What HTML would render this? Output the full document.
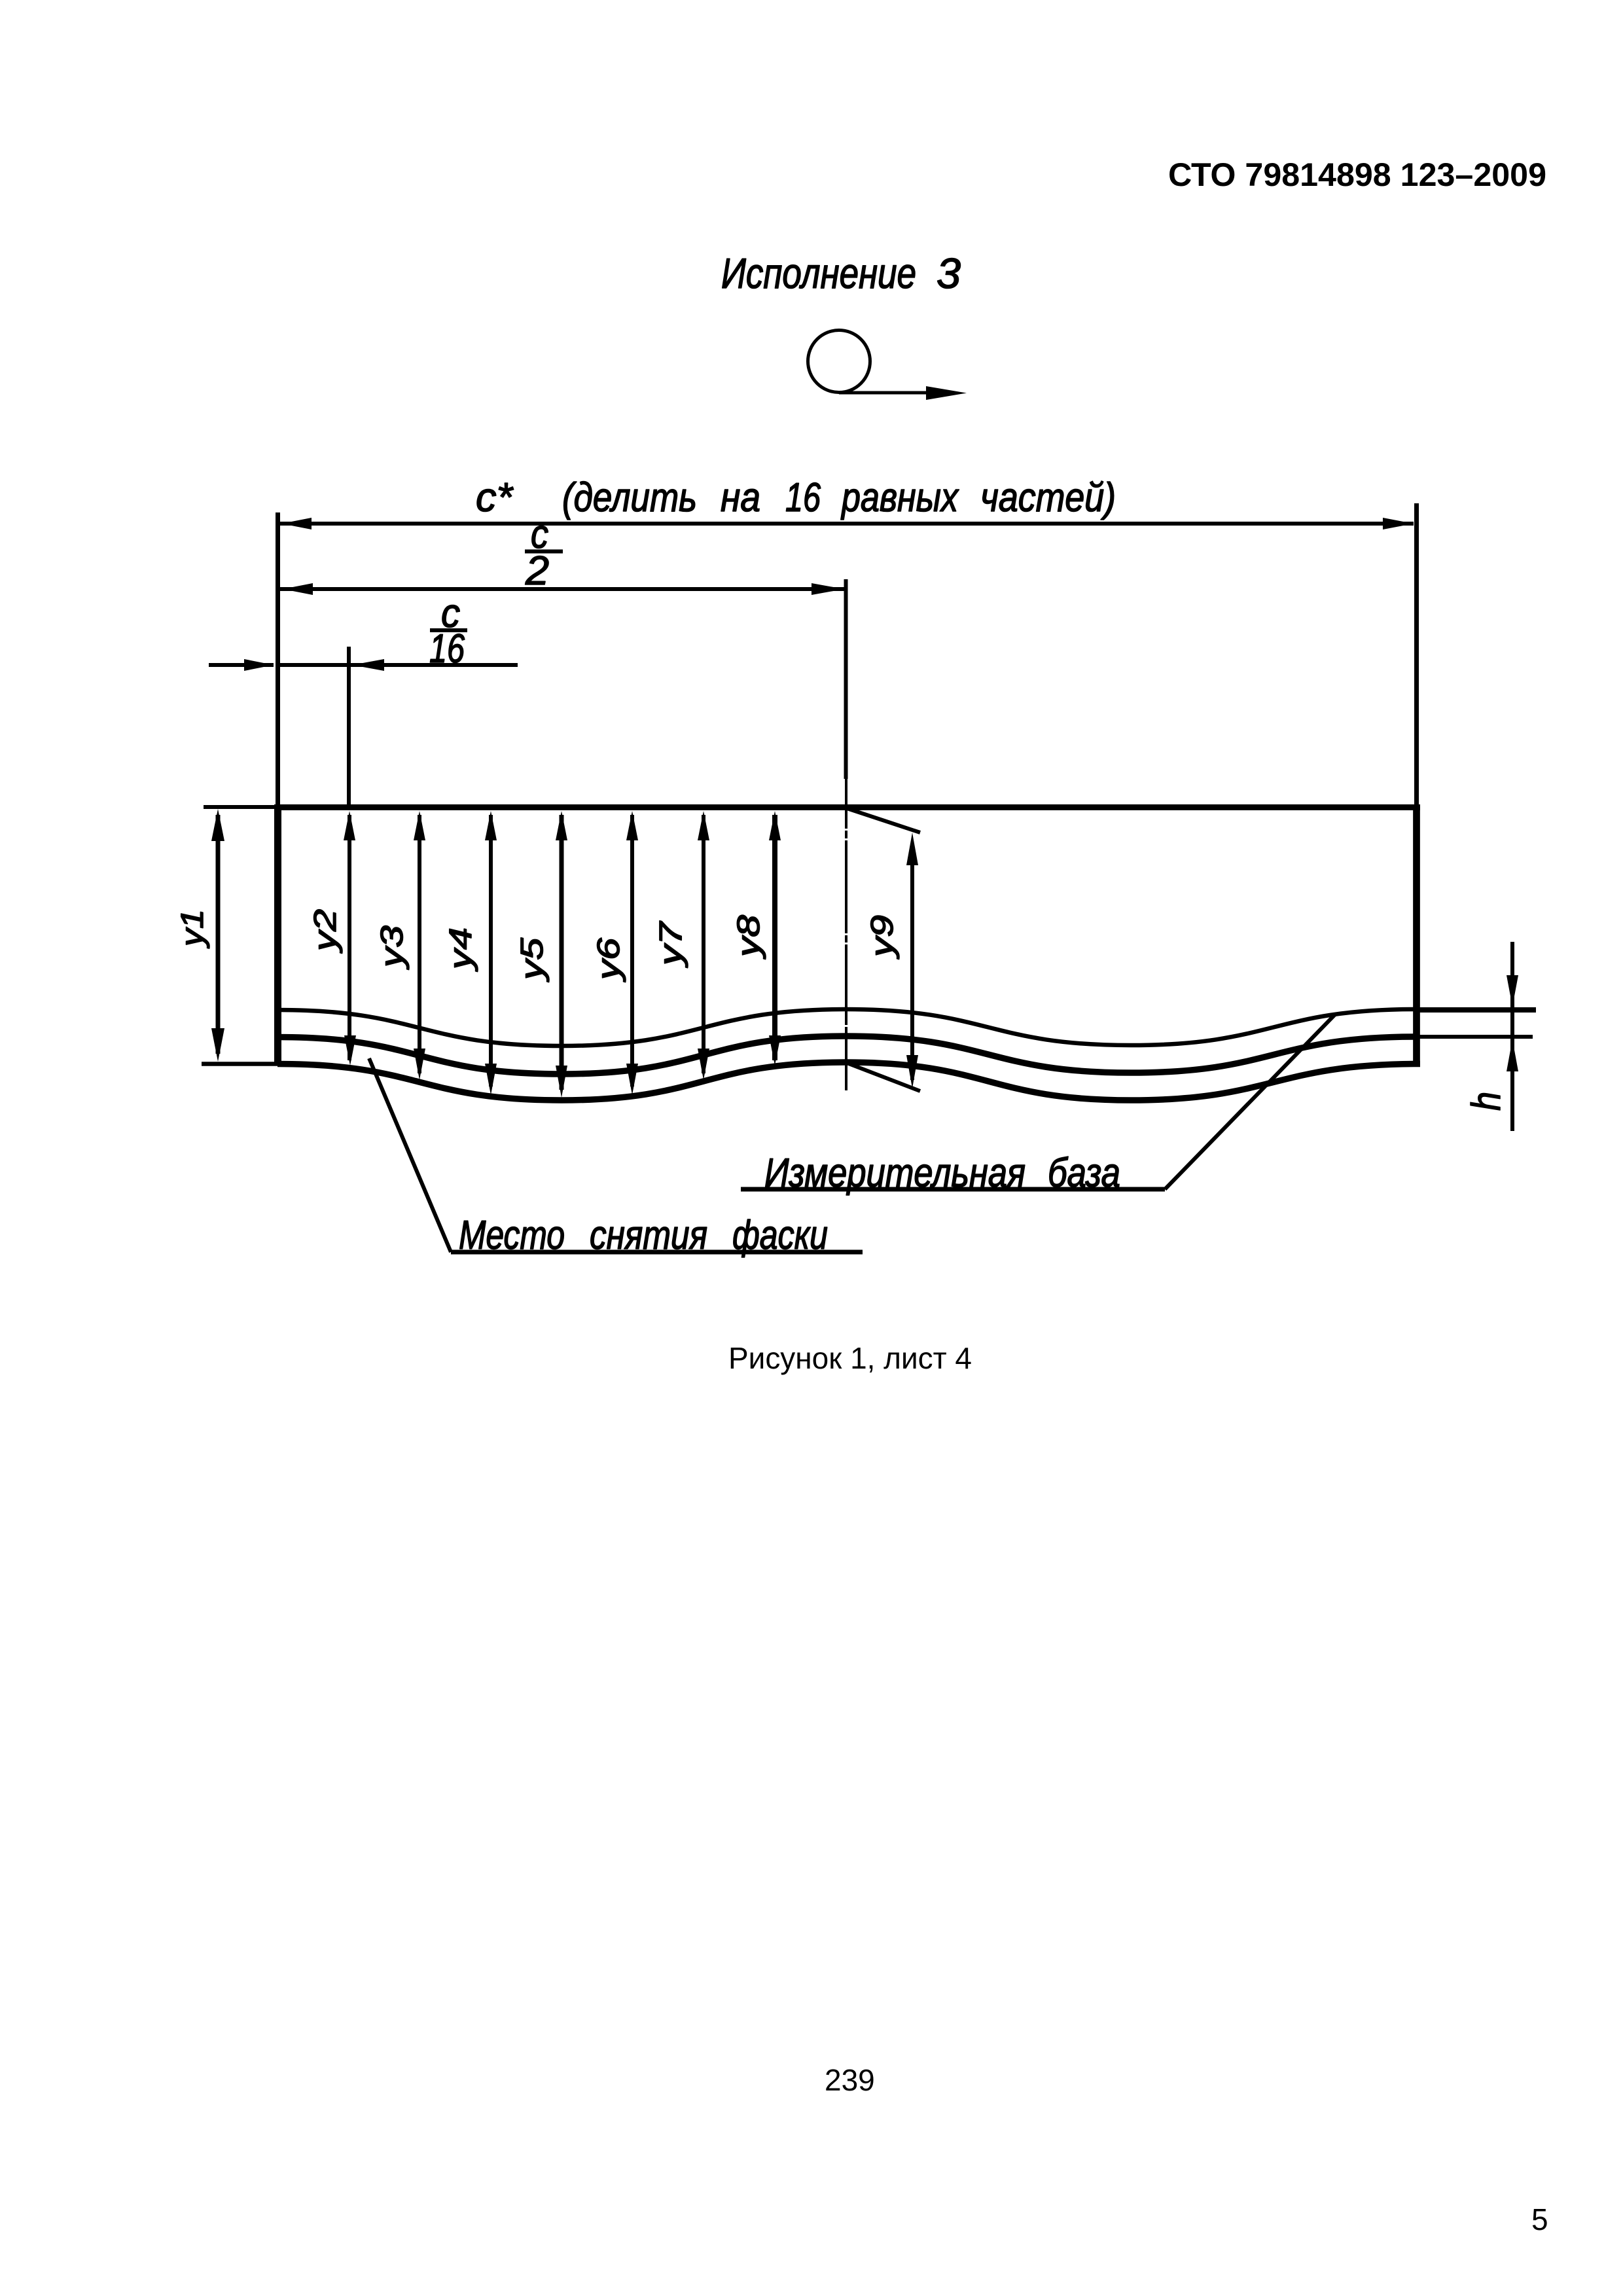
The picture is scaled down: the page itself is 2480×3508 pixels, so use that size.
<!DOCTYPE html>
<html lang="ru">
<head>
<meta charset="utf-8">
<title>СТО 79814898 123–2009</title>
<style>
html,body{margin:0;padding:0;background:#fff}
svg{display:block}
.s{font-family:"Liberation Sans",sans-serif;fill:#000}
.b{font-weight:bold}
.i{font-family:"Liberation Sans",sans-serif;font-style:italic;fill:#000;stroke:#000;stroke-width:1.6px;stroke-linejoin:round}
.d{font-size:62px}
.r{font-size:48px}
</style>
</head>
<body>
<svg xmlns="http://www.w3.org/2000/svg" width="2480" height="3508" viewBox="0 0 2480 3508">
<rect width="2480" height="3508" fill="#fff"/>

<text class="s b" x="1785" y="284" font-size="50" textLength="578" lengthAdjust="spacingAndGlyphs">СТО 79814898 123–2009</text>
<text class="i" x="1102" y="440" font-size="65" textLength="298" lengthAdjust="spacingAndGlyphs">Исполнение</text>
<text class="i" x="1431" y="440" font-size="65" textLength="37" lengthAdjust="spacingAndGlyphs">3</text>

<circle cx="1282" cy="552" r="47.5" fill="none" stroke="#000" stroke-width="5"/>
<line x1="1282" y1="600" x2="1420" y2="600" stroke="#000" stroke-width="5"/>
<polygon points="1415,590 1477,600.5 1415,611" fill="#000"/>

<g stroke="#000" stroke-width="6" fill="none">
  <!-- extension lines -->
  <line x1="424.5" y1="783" x2="424.5" y2="1234" stroke-width="7"/>
  <line x1="2164.5" y1="769" x2="2164.5" y2="1234" stroke-width="7"/>
  <line x1="1292.5" y1="885" x2="1292.5" y2="1190" stroke-width="6"/>
  <line x1="533" y1="988" x2="533" y2="1234"/>
  <!-- dim lines -->
  <line x1="425" y1="800" x2="2160" y2="800"/>
  <line x1="425" y1="900" x2="1290" y2="900"/>
  <line x1="319" y1="1016" x2="418" y2="1016"/>
  <line x1="425" y1="1016" x2="791" y2="1016"/>
  <line x1="802" y1="842.5" x2="860" y2="842.5"/>
  <line x1="657" y1="963" x2="714" y2="963"/>
  <!-- top/bottom ext -->
  <line x1="311" y1="1233" x2="425" y2="1233"/>
  <line x1="308" y1="1625.5" x2="425" y2="1625.5" stroke-width="6.5"/>
  <!-- y arrows -->
  <line x1="333" y1="1245" x2="333" y2="1610" stroke-width="7"/>
  <line x1="534" y1="1245" x2="534" y2="1620"/>
  <line x1="641" y1="1245" x2="641" y2="1640"/>
  <line x1="750" y1="1245" x2="750" y2="1660"/>
  <line x1="858" y1="1245" x2="858" y2="1665" stroke-width="7"/>
  <line x1="966" y1="1245" x2="966" y2="1660"/>
  <line x1="1075" y1="1245" x2="1075" y2="1640"/>
  <line x1="1184" y1="1245" x2="1184" y2="1620" stroke-width="8"/>
  <line x1="1394" y1="1290" x2="1394" y2="1650"/>
  <!-- slant -->
  <line x1="1294" y1="1235" x2="1406" y2="1272"/>
  <line x1="1294" y1="1624" x2="1406" y2="1667"/>
  <!-- h -->
  <line x1="2311" y1="1439" x2="2311" y2="1728"/>
  <!-- leaders -->
  <line x1="564" y1="1617" x2="689" y2="1913"/>
  <line x1="689" y1="1913" x2="1318" y2="1913" stroke-width="7"/>
  <line x1="2040" y1="1550" x2="1780" y2="1817"/>
  <line x1="1132" y1="1817" x2="1780" y2="1817" stroke-width="7"/>
</g>

<!-- center line -->
<g stroke="#000" stroke-width="4">
  <line x1="1293" y1="1190" x2="1293" y2="1266"/>
  <line x1="1293" y1="1269" x2="1293" y2="1281"/>
  <line x1="1293" y1="1284" x2="1293" y2="1426"/>
  <line x1="1293" y1="1429" x2="1293" y2="1440"/>
  <line x1="1293" y1="1443" x2="1293" y2="1566"/>
  <line x1="1293" y1="1569" x2="1293" y2="1666"/>
</g>

<!-- main outline -->
<g fill="none" stroke="#000">
  <line x1="424" y1="1233.5" x2="2170" y2="1233.5" stroke-width="9"/>
  <line x1="424.5" y1="1229" x2="424.5" y2="1628" stroke-width="11"/>
  <line x1="2164.5" y1="1229" x2="2164.5" y2="1630" stroke-width="10.7"/>
  <path stroke-width="6.5" d="M424 1543 C642 1543 640 1598 858 1598 C1075 1598 1075 1542 1292 1542 C1510 1542 1510 1597 1728 1597 C1946 1597 1946 1542 2164 1542"/>
  <path stroke-width="9.5" d="M424 1584.5 C642 1584.5 640 1641 858 1641 C1075 1641 1075 1583 1292 1583 C1510 1583 1510 1639 1728 1639 C1946 1639 1946 1584 2164 1584"/>
  <path stroke-width="9.5" d="M424 1625.5 C642 1625.5 640 1681 858 1681 C1075 1681 1075 1623 1292 1623 C1510 1623 1510 1681 1728 1681 C1946 1681 1946 1625.5 2170 1625.5"/>
  <line x1="2164" y1="1543" x2="2347" y2="1543" stroke-width="8"/>
  <line x1="2164" y1="1584" x2="2342" y2="1584" stroke-width="6"/>
</g>

<!-- arrowheads -->
<g fill="#000">
  <polygon points="430,800 476,791 476,809"/>
  <polygon points="2160,800 2113,791 2113,809"/>
  <polygon points="432,900 478,891 478,909"/>
  <polygon points="1290,900 1240,891 1240,909"/>
  <polygon points="418,1016 373,1007 373,1025"/>
  <polygon points="538,1016 587,1007 587,1025"/>

  <polygon points="333,1236 323,1285 343,1285"/>
  <polygon points="333,1622 323,1571 343,1571"/>

  <polygon points="534,1239 525,1284 543,1284"/>
  <polygon points="641,1239 632,1284 650,1284"/>
  <polygon points="750,1239 741,1284 759,1284"/>
  <polygon points="858,1239 849,1284 867,1284"/>
  <polygon points="966,1239 957,1284 975,1284"/>
  <polygon points="1075,1239 1066,1284 1084,1284"/>
  <polygon points="1184,1239 1175,1284 1193,1284"/>
  <polygon points="1394,1272 1385,1322 1403,1322"/>

  <polygon points="535,1628 526,1582 544,1582"/>
  <polygon points="641,1650 632,1602 650,1602"/>
  <polygon points="750,1673 741,1625 759,1625"/>
  <polygon points="858,1677 849,1628 867,1628"/>
  <polygon points="966,1673 957,1625 975,1625"/>
  <polygon points="1075,1650 1066,1602 1084,1602"/>
  <polygon points="1184,1628 1175,1582 1193,1582"/>
  <polygon points="1394,1663 1385,1612 1403,1612"/>

  <polygon points="2311,1538 2302,1490 2320,1490"/>
  <polygon points="2311,1588 2302,1637 2320,1637"/>
</g>

<!-- dimension text -->
<text class="i d" x="727" y="781" textLength="56" lengthAdjust="spacingAndGlyphs">с*</text>
<text class="i d" x="859" y="781" textLength="206" lengthAdjust="spacingAndGlyphs">(делить</text>
<text class="i d" x="1101" y="781" textLength="61" lengthAdjust="spacingAndGlyphs">на</text>
<text class="i d" x="1200" y="781" textLength="54" lengthAdjust="spacingAndGlyphs">16</text>
<text class="i d" x="1286" y="781" textLength="178" lengthAdjust="spacingAndGlyphs">равных</text>
<text class="i d" x="1498" y="781" textLength="207" lengthAdjust="spacingAndGlyphs">частей)</text>

<text class="i d" x="811" y="837" textLength="27" lengthAdjust="spacingAndGlyphs">с</text>
<text class="i d" x="803" y="893" textLength="36" lengthAdjust="spacingAndGlyphs">2</text>
<text class="i d" x="674" y="958" textLength="29" lengthAdjust="spacingAndGlyphs">с</text>
<text class="i d" x="656" y="1012" textLength="54" lengthAdjust="spacingAndGlyphs">16</text>

<text class="i r" transform="translate(310 1446) rotate(-90)" textLength="57" lengthAdjust="spacingAndGlyphs">у1</text>
<text class="i r" transform="translate(513 1453) rotate(-90)" textLength="64" lengthAdjust="spacingAndGlyphs">у2</text>
<text class="i r" transform="translate(615 1478) rotate(-90)" textLength="64" lengthAdjust="spacingAndGlyphs">у3</text>
<text class="i r" transform="translate(720 1481) rotate(-90)" textLength="64" lengthAdjust="spacingAndGlyphs">у4</text>
<text class="i r" transform="translate(829 1497) rotate(-90)" textLength="64" lengthAdjust="spacingAndGlyphs">у5</text>
<text class="i r" transform="translate(946 1497) rotate(-90)" textLength="64" lengthAdjust="spacingAndGlyphs">у6</text>
<text class="i r" transform="translate(1041 1475) rotate(-90)" textLength="66" lengthAdjust="spacingAndGlyphs">у7</text>
<text class="i r" transform="translate(1160 1462) rotate(-90)" textLength="64" lengthAdjust="spacingAndGlyphs">у8</text>
<text class="i r" transform="translate(1364 1462) rotate(-90)" textLength="64" lengthAdjust="spacingAndGlyphs">у9</text>
<text class="i" font-size="62" transform="translate(2292 1697) rotate(-90)" textLength="29" lengthAdjust="spacingAndGlyphs">h</text>

<text class="i d" x="1168" y="1813" textLength="399" lengthAdjust="spacingAndGlyphs">Измерительная</text>
<text class="i d" x="1601" y="1813" textLength="111" lengthAdjust="spacingAndGlyphs">база</text>
<text class="i d" x="701" y="1908" textLength="162" lengthAdjust="spacingAndGlyphs">Место</text>
<text class="i d" x="901" y="1908" textLength="180" lengthAdjust="spacingAndGlyphs">снятия</text>
<text class="i d" x="1119" y="1908" textLength="146" lengthAdjust="spacingAndGlyphs">фаски</text>

<text class="s" x="1113" y="2091" font-size="46" textLength="372" lengthAdjust="spacingAndGlyphs">Рисунок 1, лист 4</text>
<text class="s" x="1260" y="3194" font-size="46">239</text>
<text class="s" x="2340" y="3407" font-size="46">5</text>
</svg>
</body>
</html>
